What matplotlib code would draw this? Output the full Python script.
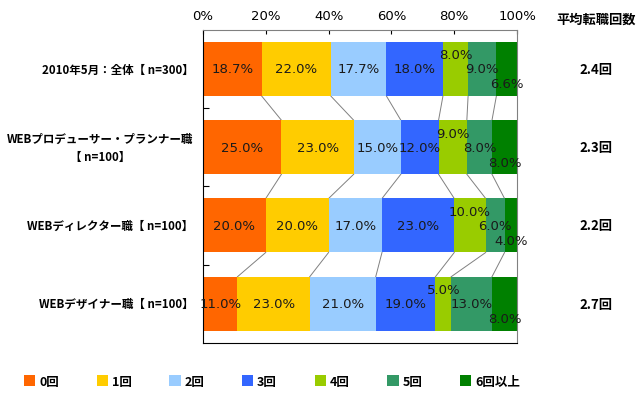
import matplotlib
matplotlib.use("Agg")
import matplotlib.pyplot as plt
from matplotlib.patches import Patch
import numpy as np

plt.rcParams['font.family'] = ['Noto Sans CJK JP', 'DejaVu Sans']

categories = ["2010年5月：全体【 n=300】",
              "WEBプロデューサー・プランナー職\n【 n=100】",
              "WEBディレクター職【 n=100】",
              "WEBデザイナー職【 n=100】"]
series = ["0回", "1回", "2回", "3回", "4回", "5回", "6回以上"]
values = np.array([
    [18.7, 22.0, 17.7, 18.0, 8.0, 9.0, 6.6],
    [25.0, 23.0, 15.0, 12.0, 9.0, 8.0, 8.0],
    [20.0, 20.0, 17.0, 23.0, 10.0, 6.0, 4.0],
    [11.0, 23.0, 21.0, 19.0, 5.0, 13.0, 8.0],
])
averages = ["2.4回", "2.3回", "2.2回", "2.7回"]
colors = ["#FF6600", "#FFCC00", "#99CCFF", "#3366FF", "#99CC00", "#339966", "#008000"]
# vertical nudge (in pixels) for the crowded small-segment labels
label_dy = [0, 0, 0, 0, -14, 0, 15]

fig = plt.figure(figsize=(6.4, 4.06), dpi=100)
ax = fig.add_axes([0.317, 0.153, 0.491, 0.771])

ypos = np.arange(len(categories))
bar_h = 0.69
totals = values.sum(axis=1, keepdims=True)
shares = values / totals * 100
left = np.zeros(len(categories))
for j, name in enumerate(series):
    ax.barh(ypos, shares[:, j], left=left, height=bar_h, color=colors[j],
            edgecolor="none", label=name)
    for i in range(len(categories)):
        cx = left[i] + shares[i, j] / 2
        ax.annotate(f"{values[i, j]:.1f}%", (cx, ypos[i]),
                    xytext=(0, -label_dy[j]), textcoords="offset pixels",
                    ha="center", va="center", fontsize=9.5, color="#1a1a1a",
                    family="DejaVu Sans")
    left = left + shares[:, j]

# connector lines between bars
cum = np.cumsum(shares, axis=1)
for i in range(len(categories) - 1):
    for j in range(len(series) - 1):
        ax.plot([cum[i, j], cum[i + 1, j]],
                [ypos[i] + bar_h / 2, ypos[i + 1] - bar_h / 2],
                color="#808080", lw=0.7, zorder=0)

ax.set_xlim(0, 100)
ax.set_ylim(len(categories) - 0.5, -0.5)
ax.set_xticks(np.arange(0, 101, 20))
ax.set_xticklabels([f"{t}%" for t in range(0, 101, 20)], family="DejaVu Sans")
ax.xaxis.tick_top()
ax.tick_params(axis="x", direction="in", length=3, pad=6, labelsize=9.5)
ax.set_yticks(ypos[:-1] + 0.5)
ax.set_yticklabels([])
ax.tick_params(axis="y", direction="in", length=4, left=True)
for i, cat in enumerate(categories):
    ax.text(-0.03, ypos[i], cat, transform=ax.get_yaxis_transform(),
            ha="right", va="center", fontsize=8.3, fontweight="bold",
            multialignment="center", linespacing=1.5)

ax.spines["top"].set_color("#808080")
ax.spines["right"].set_color("#808080")
ax.spines["top"].set_linewidth(0.8)
ax.spines["right"].set_linewidth(0.8)
ax.spines["left"].set_color("black")
ax.spines["bottom"].set_color("black")

# average column on the right
ax.text(1.25, 1.035, "平均転職回数", transform=ax.transAxes,
        ha="center", va="center", fontsize=9.5, fontweight="bold")
for i, a in enumerate(averages):
    ax.text(1.25, ypos[i], a, transform=ax.get_yaxis_transform(),
            ha="center", va="center", fontsize=9.5, fontweight="bold")

handles = [Patch(facecolor=c, edgecolor="none") for c in colors]
fig.legend(handles, series, loc="lower left", ncol=7, frameon=False,
           bbox_to_anchor=(0.02, 0.015, 0.81, 0.06), mode="expand",
           handlelength=0.9, handleheight=0.9, handletextpad=0.3,
           prop={"size": 9, "weight": "bold"})

fig.savefig("out.png", dpi=100, facecolor="white")
